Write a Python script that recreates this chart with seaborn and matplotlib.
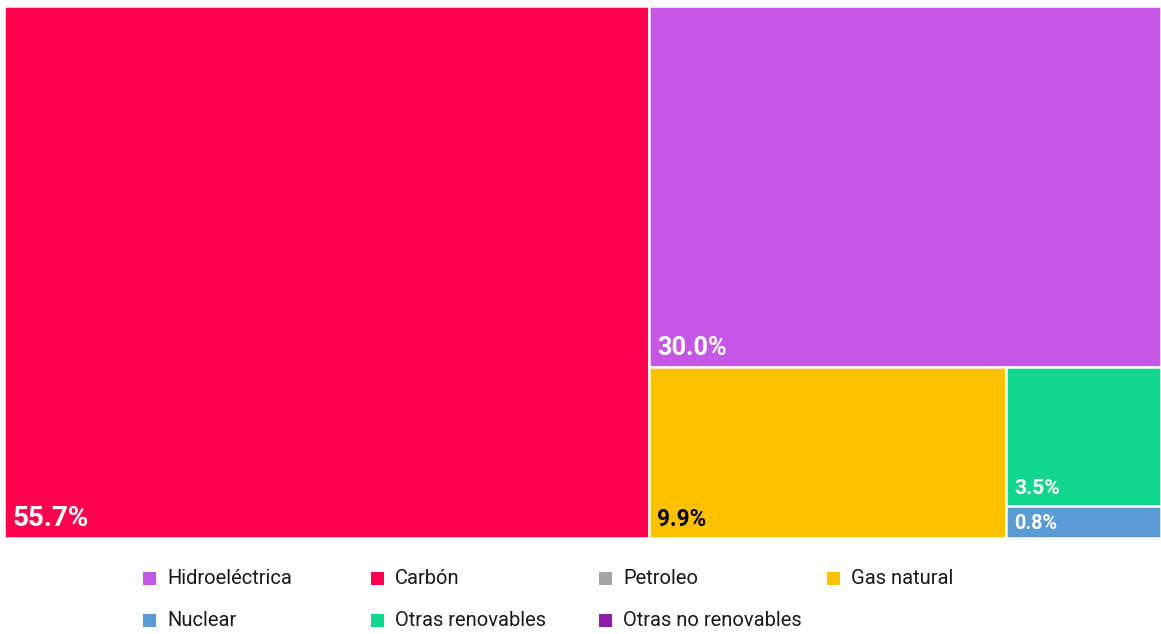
import numpy as np
import matplotlib
matplotlib.use("Agg")
import matplotlib.pyplot as plt
from matplotlib.patches import Rectangle
import seaborn as sns

# Share of electricity generation by source (%)
sources = ["Hidroeléctrica", "Carbón", "Petroleo", "Gas natural",
           "Nuclear", "Otras renovables", "Otras no renovables"]
shares = [30.0, 55.7, 0.0, 9.9, 0.8, 3.5, 0.0]
colors = ["#C457E3", "#FF004D", "#A6A6A6", "#FFC000",
          "#5B9BD5", "#13D68E", "#8E1EA8"]
label_colors = ["white", "white", "white", "black", "white", "white", "white"]

sns.set_theme(style="white")
plt.rcParams["font.family"] = ["Roboto", "DejaVu Sans"]


def worst_ratio(row, side):
    s = sum(row)
    return max(max(side * side * r / (s * s), (s * s) / (side * side * r)) for r in row)


def squarify(values, x, y, w, h):
    """Squarified treemap layout; values must be areas summing to w*h."""
    rects = []
    values = list(values)
    while values:
        side = min(w, h)
        row = [values[0]]
        i = 1
        while i < len(values) and worst_ratio(row + [values[i]], side) <= worst_ratio(row, side):
            row.append(values[i])
            i += 1
        values = values[i:]
        s = sum(row)
        if w >= h:
            # column on the left
            cw = s / h
            cy = y
            for r in row:
                rh = r / cw
                rects.append((x, cy, cw, rh))
                cy += rh
            x += cw
            w -= cw
        else:
            # row across the top
            rh = s / w
            cx = x
            for r in row:
                rw = r / rh
                rects.append((cx, y, rw, rh))
                cx += rw
            y += rh
            h -= rh
    return rects


W, H = 1157.0, 532.0
fig = plt.figure(figsize=(11.61, 6.34), dpi=100)
ax = fig.add_axes([4 / 1161, 1 - 538 / 634, 1157 / 1161, 532 / 634])
ax.set_xlim(0, W)
ax.set_ylim(H, 0)
ax.axis("off")

items = [(s, v, c, lc) for s, v, c, lc in zip(sources, shares, colors, label_colors) if v > 0]
items.sort(key=lambda t: -t[1])
total = sum(t[1] for t in items)
areas = [t[1] / total * W * H for t in items]
rects = squarify(areas, 0, 0, W, H)
vmax = max(t[1] for t in items)

for (name, val, col, lcol), (rx, ry, rw, rh) in zip(items, rects):
    ax.add_patch(Rectangle((rx, ry), rw, rh, facecolor=col, edgecolor="white", linewidth=1.8))
    fs = 13.5 + 6.5 * np.sqrt(val / vmax)
    if rh < 45:
        ax.annotate(f"{val:.1f}%", xy=(rx, ry + rh / 2), xytext=(6, -1),
                    textcoords="offset points", ha="left", va="center",
                    fontsize=fs, fontweight="bold", color=lcol)
    else:
        ax.annotate(f"{val:.1f}%", xy=(rx, ry + rh), xytext=(6, 8.5),
                    textcoords="offset points", ha="left", va="baseline",
                    fontsize=fs, fontweight="bold", color=lcol)

# Legend: four columns, two rows
col_x = [143, 371, 599, 827]
row_y = [578, 620]
for i, (name, col) in enumerate(zip(sources, colors)):
    cx = col_x[i % 4]
    cy = row_y[i // 4]
    fig.patches.append(Rectangle((cx / 1161, 1 - (cy + 6.5) / 634), 13 / 1161, 13 / 634,
                                 facecolor=col, edgecolor="none",
                                 transform=fig.transFigure, figure=fig))
    fig.text((cx + 24) / 1161, 1 - cy / 634, name, ha="left", va="center",
             fontsize=14.5, color="#1a1a1a")

fig.savefig("out.png", dpi=100, facecolor="white")
